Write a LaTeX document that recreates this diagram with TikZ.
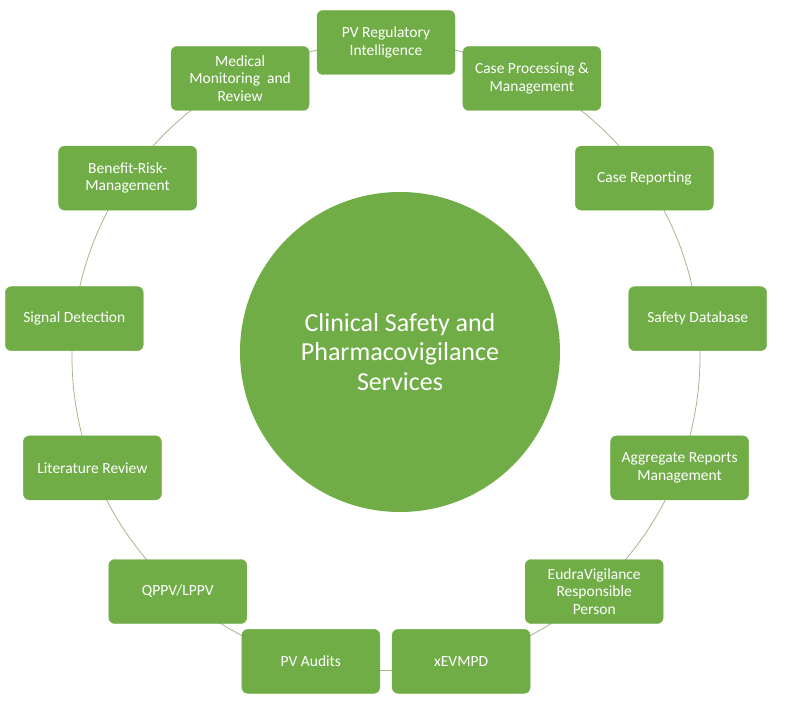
\documentclass[tikz,border=0pt]{standalone}
\usepackage{fontspec}
\setmainfont{Carlito}
\usepackage{tikz}
\definecolor{pvgreen}{RGB}{112,173,71}
\definecolor{ringgreen}{RGB}{160,185,140}
\tikzset{
  service/.style={draw=pvgreen, fill=pvgreen, text=white, rounded corners=6pt,
    minimum width=138pt, minimum height=64pt, align=center,
    font=\fontsize{15.5}{17.5}\selectfont},
  hub/.style={circle, fill=pvgreen, text=white, minimum size=320pt, align=center,
    font=\fontsize{26}{29.5}\selectfont}
}

\begin{document}
\begin{tikzpicture}[x=1pt, y=1pt]
        \useasboundingbox (0, 0) rectangle (785, 720);
        \coordinate (ring) at (386, 363.5);

        % ring behind the boxes
        \draw[ringgreen, line width=0.8pt] (ring) circle (314);

        \node[hub] (core) at (400, 368)
        {Clinical Safety and\\Pharmacovigilance\\Services};

        \node[service] (regint) at ([shift={(ring)}] 90:314) {PV Regulatory\\Intelligence};
        \node[service] (caseproc) at ([shift={(ring)}] 62.31:314) {Case Processing \&\\Management};
        \node[service] (caserep) at ([shift={(ring)}] 34.62:314) {Case Reporting};
        \node[service] (safetydb) at ([shift={(ring)}] 6.92:314) {Safety Database};
        \node[service] (aggrep) at ([shift={(ring)}] -20.77:314) {Aggregate Reports\\Management};
        \node[service] (eudra) at ([shift={(ring)}] -48.46:314) {EudraVigilance\\Responsible\\Person};
        \node[service] (xevmpd) at ([shift={(ring)}] -76.15:314) {xEVMPD};
        \node[service] (audits) at ([shift={(ring)}] -103.85:314) {PV Audits};
        \node[service] (qppv) at ([shift={(ring)}] -131.54:314) {QPPV/LPPV};
        \node[service] (litrev) at ([shift={(ring)}] -159.23:314) {Literature Review};
        \node[service] (signal) at ([shift={(ring)}] 173.08:314) {Signal Detection};
        \node[service] (benrisk) at ([shift={(ring)}] 145.38:314) {Benefit-Risk-\\Management};
        \node[service] (medmon) at ([shift={(ring)}] 117.69:314) {Medical\\Monitoring\ \ and\\Review};

    \end{tikzpicture}
\end{document}
